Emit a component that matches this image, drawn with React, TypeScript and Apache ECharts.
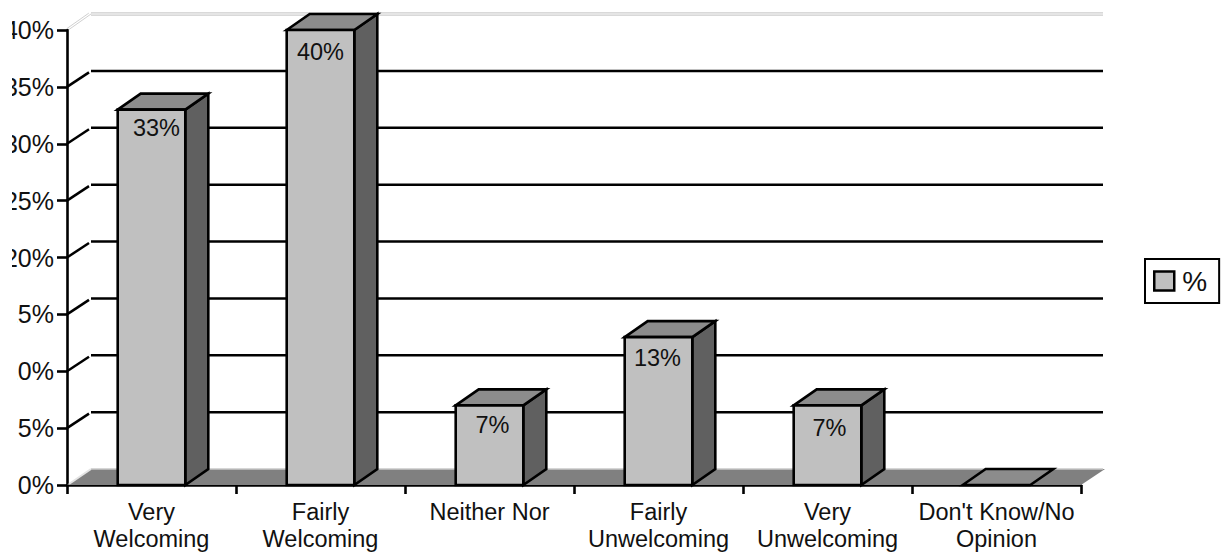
import React, { useEffect, useRef } from "react";
import * as echarts from "echarts";

const categories = ["Very\nWelcoming", "Fairly\nWelcoming", "Neither Nor", "Fairly\nUnwelcoming", "Very\nUnwelcoming", "Don't Know/No\nOpinion"];
const percentValues = [33, 40, 7, 13, 7, 0];
const wallTicks = [0, 5, 10, 15, 20, 25, 30, 35, 40];

const DEPTH_X = 24;
const DEPTH_Y = 16;
const FONT = '"Liberation Sans", Arial, sans-serif';
// small per-bar offsets of the data labels, as placed in the reference
const labelShiftX = [5, 0, 3, -1, 2, 0];
const labelShiftY = [-2, 2, 0, 1, 3, 0];

function renderWall(params: any, api: any) {
  const v = api.value(0);
  const cs = params.coordSys;
  const y = api.coord([0, v])[1];
  const x0 = cs.x;
  const x1 = cs.x + cs.width;
  const children: any[] = [];
  if (v === 0) {
    children.push({
      type: "polygon",
      shape: { points: [[x0, y], [x0 + DEPTH_X, y - DEPTH_Y], [x1 + DEPTH_X, y - DEPTH_Y], [x1, y]] },
      style: { fill: "#808080", stroke: "none" },
    });
    children.push({
      type: "line",
      shape: { x1: x0 + 2, y1: y - 1, x2: x0 + DEPTH_X, y2: y - DEPTH_Y },
      style: { stroke: "#e4e4e4", lineWidth: 2 },
    });
    children.push({
      type: "line",
      shape: { x1: x0 + DEPTH_X, y1: y - DEPTH_Y, x2: x1 + DEPTH_X - 2, y2: y - DEPTH_Y },
      style: { stroke: "#c8c8c8", lineWidth: 1.5 },
    });
  } else if (v === 40) {
    [-1.2, 1.2].forEach((d) => {
      children.push({
        type: "line",
        shape: { x1: x0 + 1 + d, y1: y - 1 + d * 0.3, x2: x0 + DEPTH_X - 1 + d, y2: y - DEPTH_Y - 0.5 + d * 0.3 },
        style: { stroke: "#d0d0d0", lineWidth: 1 },
      });
      children.push({
        type: "line",
        shape: { x1: x0 + DEPTH_X, y1: y - DEPTH_Y + d, x2: x1 + DEPTH_X - 2, y2: y - DEPTH_Y + d },
        style: { stroke: "#cccccc", lineWidth: 1.2 },
      });
    });
  } else {
    children.push({
      type: "line",
      shape: { x1: x0, y1: y, x2: x0 + DEPTH_X - 2, y2: y - DEPTH_Y + 1.5 },
      style: { stroke: "#000", lineWidth: 2.5 },
    });
    children.push({
      type: "line",
      shape: { x1: x0 + DEPTH_X, y1: y - DEPTH_Y, x2: x1 + DEPTH_X - 2, y2: y - DEPTH_Y },
      style: { stroke: "#000", lineWidth: 2.5 },
    });
  }
  return { type: "group", children };
}

function renderBar(params: any, api: any) {
  const i = api.value(0);
  const v = api.value(1);
  const [cx, top] = api.coord([i, v]);
  const base = api.coord([i, 0])[1];
  const w = api.size([1, 0])[0] * 0.4;
  const l = cx - w / 2;
  const r = l + w;
  const edge = { stroke: "#000", lineWidth: 2.6, lineJoin: "miter" };
  const children: any[] = [];
  if (v > 0) {
    children.push({
      type: "polygon",
      shape: { points: [[r, top], [r + DEPTH_X - 1, top - DEPTH_Y], [r + DEPTH_X - 1, base - DEPTH_Y], [r, base]] },
      style: { fill: "#606060", ...edge },
    });
  }
  children.push({
    type: "polygon",
    shape: { points: [[l, top], [l + DEPTH_X - 1, top - DEPTH_Y], [r + DEPTH_X - 1, top - DEPTH_Y], [r, top]] },
    style: { fill: "#8c8c8c", ...edge },
  });
  if (v > 0) {
    children.push({
      type: "rect",
      shape: { x: l, y: top, width: w, height: base - top },
      style: { fill: "#c0c0c0", ...edge },
    });
    children.push({
      type: "text",
      style: {
        text: `${v}%`,
        x: cx + labelShiftX[i],
        y: top + 20 + labelShiftY[i],
        fill: "#111",
        font: `23.5px ${FONT}`,
        textAlign: "center",
        textVerticalAlign: "middle",
      },
    });
  }
  return { type: "group", children };
}

export default function App() {
  const ref = useRef<HTMLDivElement>(null);
  useEffect(() => {
    const chart = echarts.init(ref.current!, null, { renderer: "svg" });
    chart.setOption({
      animation: false,
      backgroundColor: "#fff",
      textStyle: { fontFamily: FONT },
      grid: { left: 67, right: 140, top: 30, bottom: 67, containLabel: false },
      legend: {
        data: ["%"],
        left: 1145,
        top: 259,
        orient: "vertical",
        padding: [8, 12, 8, 8],
        itemWidth: 20,
        itemHeight: 19,
        itemGap: 0,
        icon: "rect",
        borderColor: "#000",
        borderWidth: 2,
        textStyle: { color: "#111", fontSize: 28, fontFamily: FONT, padding: [0, 0, 0, 3] },
        itemStyle: { color: "#c0c0c0", borderColor: "#000", borderWidth: 2.5 },
      },
      xAxis: {
        type: "category",
        data: categories,
        axisLine: { show: true, lineStyle: { color: "#000", width: 2.6 } },
        axisTick: { show: true, alignWithLabel: false, length: 9, lineStyle: { color: "#000", width: 2.6 } },
        axisLabel: { interval: 0, color: "#111", fontSize: 23.5, lineHeight: 27, margin: 13, fontFamily: FONT },
        splitLine: { show: false },
      },
      yAxis: {
        type: "value",
        min: 0,
        max: 40,
        interval: 5,
        axisLine: { show: true, lineStyle: { color: "#000", width: 2.6 } },
        axisTick: { show: true, length: 10, lineStyle: { color: "#000", width: 2.6 } },
        axisLabel: { formatter: "{value}%", color: "#111", fontSize: 25, margin: 13, fontFamily: FONT },
        splitLine: { show: false },
      },
      graphic: [
        { type: "rect", z: 100, silent: true, shape: { x: 0, y: 0, width: 12, height: 470 }, style: { fill: "#fff" } },
        { type: "rect", z: 100, silent: true, shape: { x: 12, y: 302, width: 5, height: 24 }, style: { fill: "#fff" } },
        { type: "rect", z: 100, silent: true, shape: { x: 12, y: 359, width: 5, height: 24 }, style: { fill: "#fff" } },
      ],
      series: [
        {
          type: "custom",
          name: "wall",
          renderItem: renderWall,
          data: wallTicks.map((t) => [t]),
          encode: { y: 0 },
          clip: false,
          silent: true,
          z: 1,
        },
        {
          type: "custom",
          name: "%",
          renderItem: renderBar,
          data: percentValues.map((v, i) => [i, v]),
          encode: { x: 0, y: 1 },
          clip: false,
          itemStyle: { color: "#c0c0c0" },
          z: 2,
        },
      ],
    });
    return () => chart.dispose();
  }, []);
  return <div ref={ref} style={{ position: "absolute", left: 0, top: 0, width: 1221, height: 552 }} />;
}
